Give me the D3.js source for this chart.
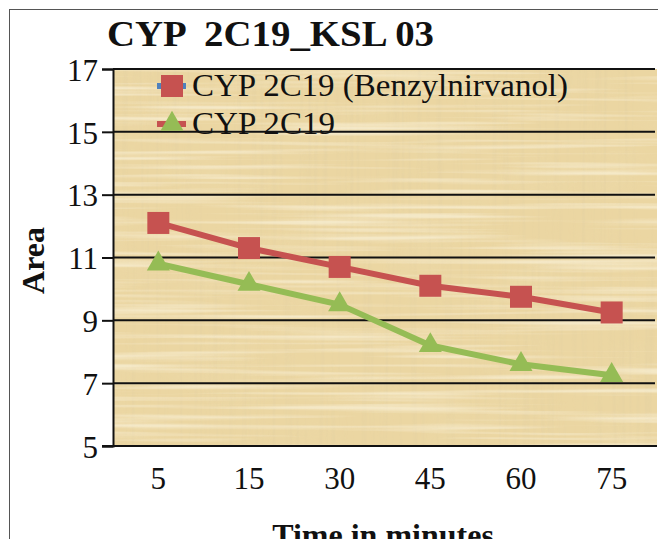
<!DOCTYPE html>
<html>
<head>
<meta charset="utf-8">
<script src="https://cdn.jsdelivr.net/npm/d3@7"></script>
<style>
  html, body { margin: 0; padding: 0; background: #fff; }
  svg { display: block; }
</style>
</head>
<body>
<script>
// Sampling times (minutes) and measured areas for each series
const categories = ["5", "15", "30", "45", "60", "75"];
const benzylValues = [12.1, 11.3, 10.7, 10.1, 9.75, 9.25];
const plainValues = [10.8, 10.15, 9.5, 8.2, 7.6, 7.25];
const yTicks = [5, 7, 9, 11, 13, 15, 17];
const seriesNames = ["CYP 2C19 (Benzylnirvanol)", "CYP 2C19"];

const W = 658, H = 539;
const plot = { left: 113, top: 69, right: 657, bottom: 446 };
const FONT = "'Liberation Serif', 'Times New Roman', serif";
const RED = "#c65250", GREEN = "#95bc55", BLUE = "#4f81bd";

const svg = d3.select("body").append("svg").attr("width", W).attr("height", H);
const defs = svg.append("defs");

// Papyrus-like fibre texture: thin light horizontal fibres, darker vertical fibres, soft blotches
function streaks(id, freq, octaves, seed, rgb, slope, offset) {
  const f = defs.append("filter").attr("id", id)
    .attr("x", 0).attr("y", 0).attr("width", 1).attr("height", 1);
  f.append("feTurbulence").attr("type", "fractalNoise")
    .attr("baseFrequency", freq).attr("numOctaves", octaves).attr("seed", seed).attr("result", "n");
  f.append("feColorMatrix").attr("in", "n").attr("type", "matrix")
    .attr("values", [
      0, 0, 0, 0, rgb[0],
      0, 0, 0, 0, rgb[1],
      0, 0, 0, 0, rgb[2],
      slope, 0, 0, 0, offset
    ].join(" ")).attr("result", "t");
  f.append("feComposite").attr("in", "t").attr("in2", "SourceGraphic").attr("operator", "in");
}
streaks("blot", "0.015 0.02", 2, 11, [0.84, 0.70, 0.40], 2.0, -0.9);
streaks("fibV", "0.22 0.004", 2, 7, [0.78, 0.64, 0.36], 3.0, -1.45);
streaks("fibH", "0.004 0.20", 2, 3, [0.97, 0.91, 0.74], 3.0, -1.40);

// Outer chart frame
svg.append("rect").attr("x", 9.5).attr("y", 9.5).attr("width", 700).attr("height", 700)
  .attr("fill", "none").attr("stroke", "#555").attr("stroke-width", 1);

const x = d3.scaleBand().domain(categories).range([plot.left, plot.right]).padding(0);
const cx = d => x(d) + x.bandwidth() / 2;
const y = d3.scaleLinear().domain([5, 17]).range([plot.bottom, plot.top]);

// Plot background
const bg = svg.append("g");
const pw = plot.right - plot.left, ph = plot.bottom - plot.top;
bg.append("rect").attr("x", plot.left).attr("y", plot.top).attr("width", pw).attr("height", ph)
  .attr("fill", "#ebd6a2");
[["blot", 0.5], ["fibV", 0.55], ["fibH", 0.6]].forEach(([id, op]) => {
  bg.append("rect").attr("x", plot.left).attr("y", plot.top).attr("width", pw).attr("height", ph)
    .attr("fill", "#fff").attr("filter", `url(#${id})`).attr("opacity", op);
});

// Horizontal gridlines
svg.append("g").selectAll("line").data(yTicks.filter(t => t > 5)).join("line")
  .attr("x1", plot.left).attr("x2", plot.right - 2)
  .attr("y1", d => y(d)).attr("y2", d => y(d))
  .attr("stroke", "#111").attr("stroke-width", 2);

// Y axis
const yAxis = svg.append("g").attr("transform", `translate(${plot.left},0)`)
  .call(d3.axisLeft(y).tickValues(yTicks).tickSize(11).tickPadding(4).tickFormat(d3.format("d")));
yAxis.select(".domain").attr("stroke", "#111").attr("stroke-width", 2);
yAxis.selectAll(".tick line").attr("stroke", "#111").attr("stroke-width", 2);
yAxis.selectAll("text").attr("font-family", FONT).attr("font-size", 31).attr("fill", "#111")
  .attr("dy", "0.36em");

// X axis
const xAxis = svg.append("g").attr("transform", `translate(0,${plot.bottom})`)
  .call(d3.axisBottom(x).tickSize(0).tickPadding(21));
xAxis.select(".domain").remove();
svg.append("line").attr("x1", plot.left - 11).attr("x2", plot.right)
  .attr("y1", plot.bottom).attr("y2", plot.bottom)
  .attr("stroke", "#111").attr("stroke-width", 2);
xAxis.selectAll("text").attr("font-family", FONT).attr("font-size", 31).attr("fill", "#111");

// Series lines and markers
const line = d3.line().x((d, i) => cx(categories[i])).y(d => y(d));
svg.append("path").datum(benzylValues).attr("d", line)
  .attr("fill", "none").attr("stroke", RED).attr("stroke-width", 6).attr("stroke-linejoin", "round");
svg.append("path").datum(plainValues).attr("d", line)
  .attr("fill", "none").attr("stroke", GREEN).attr("stroke-width", 6).attr("stroke-linejoin", "round");

const sq = 22;
svg.append("g").selectAll("rect").data(benzylValues).join("rect")
  .attr("x", (d, i) => cx(categories[i]) - sq / 2).attr("y", d => y(d) - sq / 2)
  .attr("width", sq).attr("height", sq).attr("fill", RED);

const tri = d3.symbol().type(d3.symbolTriangle).size(230);
svg.append("g").selectAll("path").data(plainValues).join("path")
  .attr("d", tri)
  .attr("transform", (d, i) => `translate(${cx(categories[i])},${y(d)})`)
  .attr("fill", GREEN);

// Legend
const legend = svg.append("g");
const rows = [
  { name: seriesNames[0], line: BLUE, y: 86, marker: "square", len: 376 },
  { name: seriesNames[1], line: RED, y: 124, marker: "triangle", len: 143 }
];
rows.forEach(r => {
  legend.append("line").attr("x1", 157).attr("x2", 186).attr("y1", r.y).attr("y2", r.y)
    .attr("stroke", r.line).attr("stroke-width", 6);
  if (r.marker === "square") {
    legend.append("rect").attr("x", 172 - sq / 2).attr("y", r.y - sq / 2)
      .attr("width", sq).attr("height", sq).attr("fill", RED);
  } else {
    legend.append("path").attr("d", tri).attr("transform", `translate(172,${r.y})`).attr("fill", GREEN);
  }
  legend.append("text").attr("x", 192).attr("y", r.y + 10)
    .attr("font-family", FONT).attr("font-size", 31).attr("fill", "#111")
    .attr("textLength", r.len).attr("lengthAdjust", "spacingAndGlyphs").text(r.name);
});

// Title and axis titles
svg.append("text").attr("x", 107).attr("y", 46)
  .attr("font-family", FONT).attr("font-weight", "bold").attr("font-size", 35).attr("fill", "#111")
  .attr("xml:space", "preserve").attr("textLength", 327).attr("lengthAdjust", "spacingAndGlyphs")
  .text("CYP  2C19_KSL 03");

svg.append("text").attr("transform", `translate(44,${(plot.top + plot.bottom) / 2 + 3}) rotate(-90)`)
  .attr("text-anchor", "middle")
  .attr("font-family", FONT).attr("font-weight", "bold").attr("font-size", 32).attr("fill", "#111")
  .text("Area");

svg.append("text").attr("x", (plot.left + plot.right) / 2 - 2).attr("y", 546)
  .attr("text-anchor", "middle")
  .attr("font-family", FONT).attr("font-weight", "bold").attr("font-size", 32).attr("fill", "#111")
  .text("Time in minutes");
</script>
</body>
</html>
